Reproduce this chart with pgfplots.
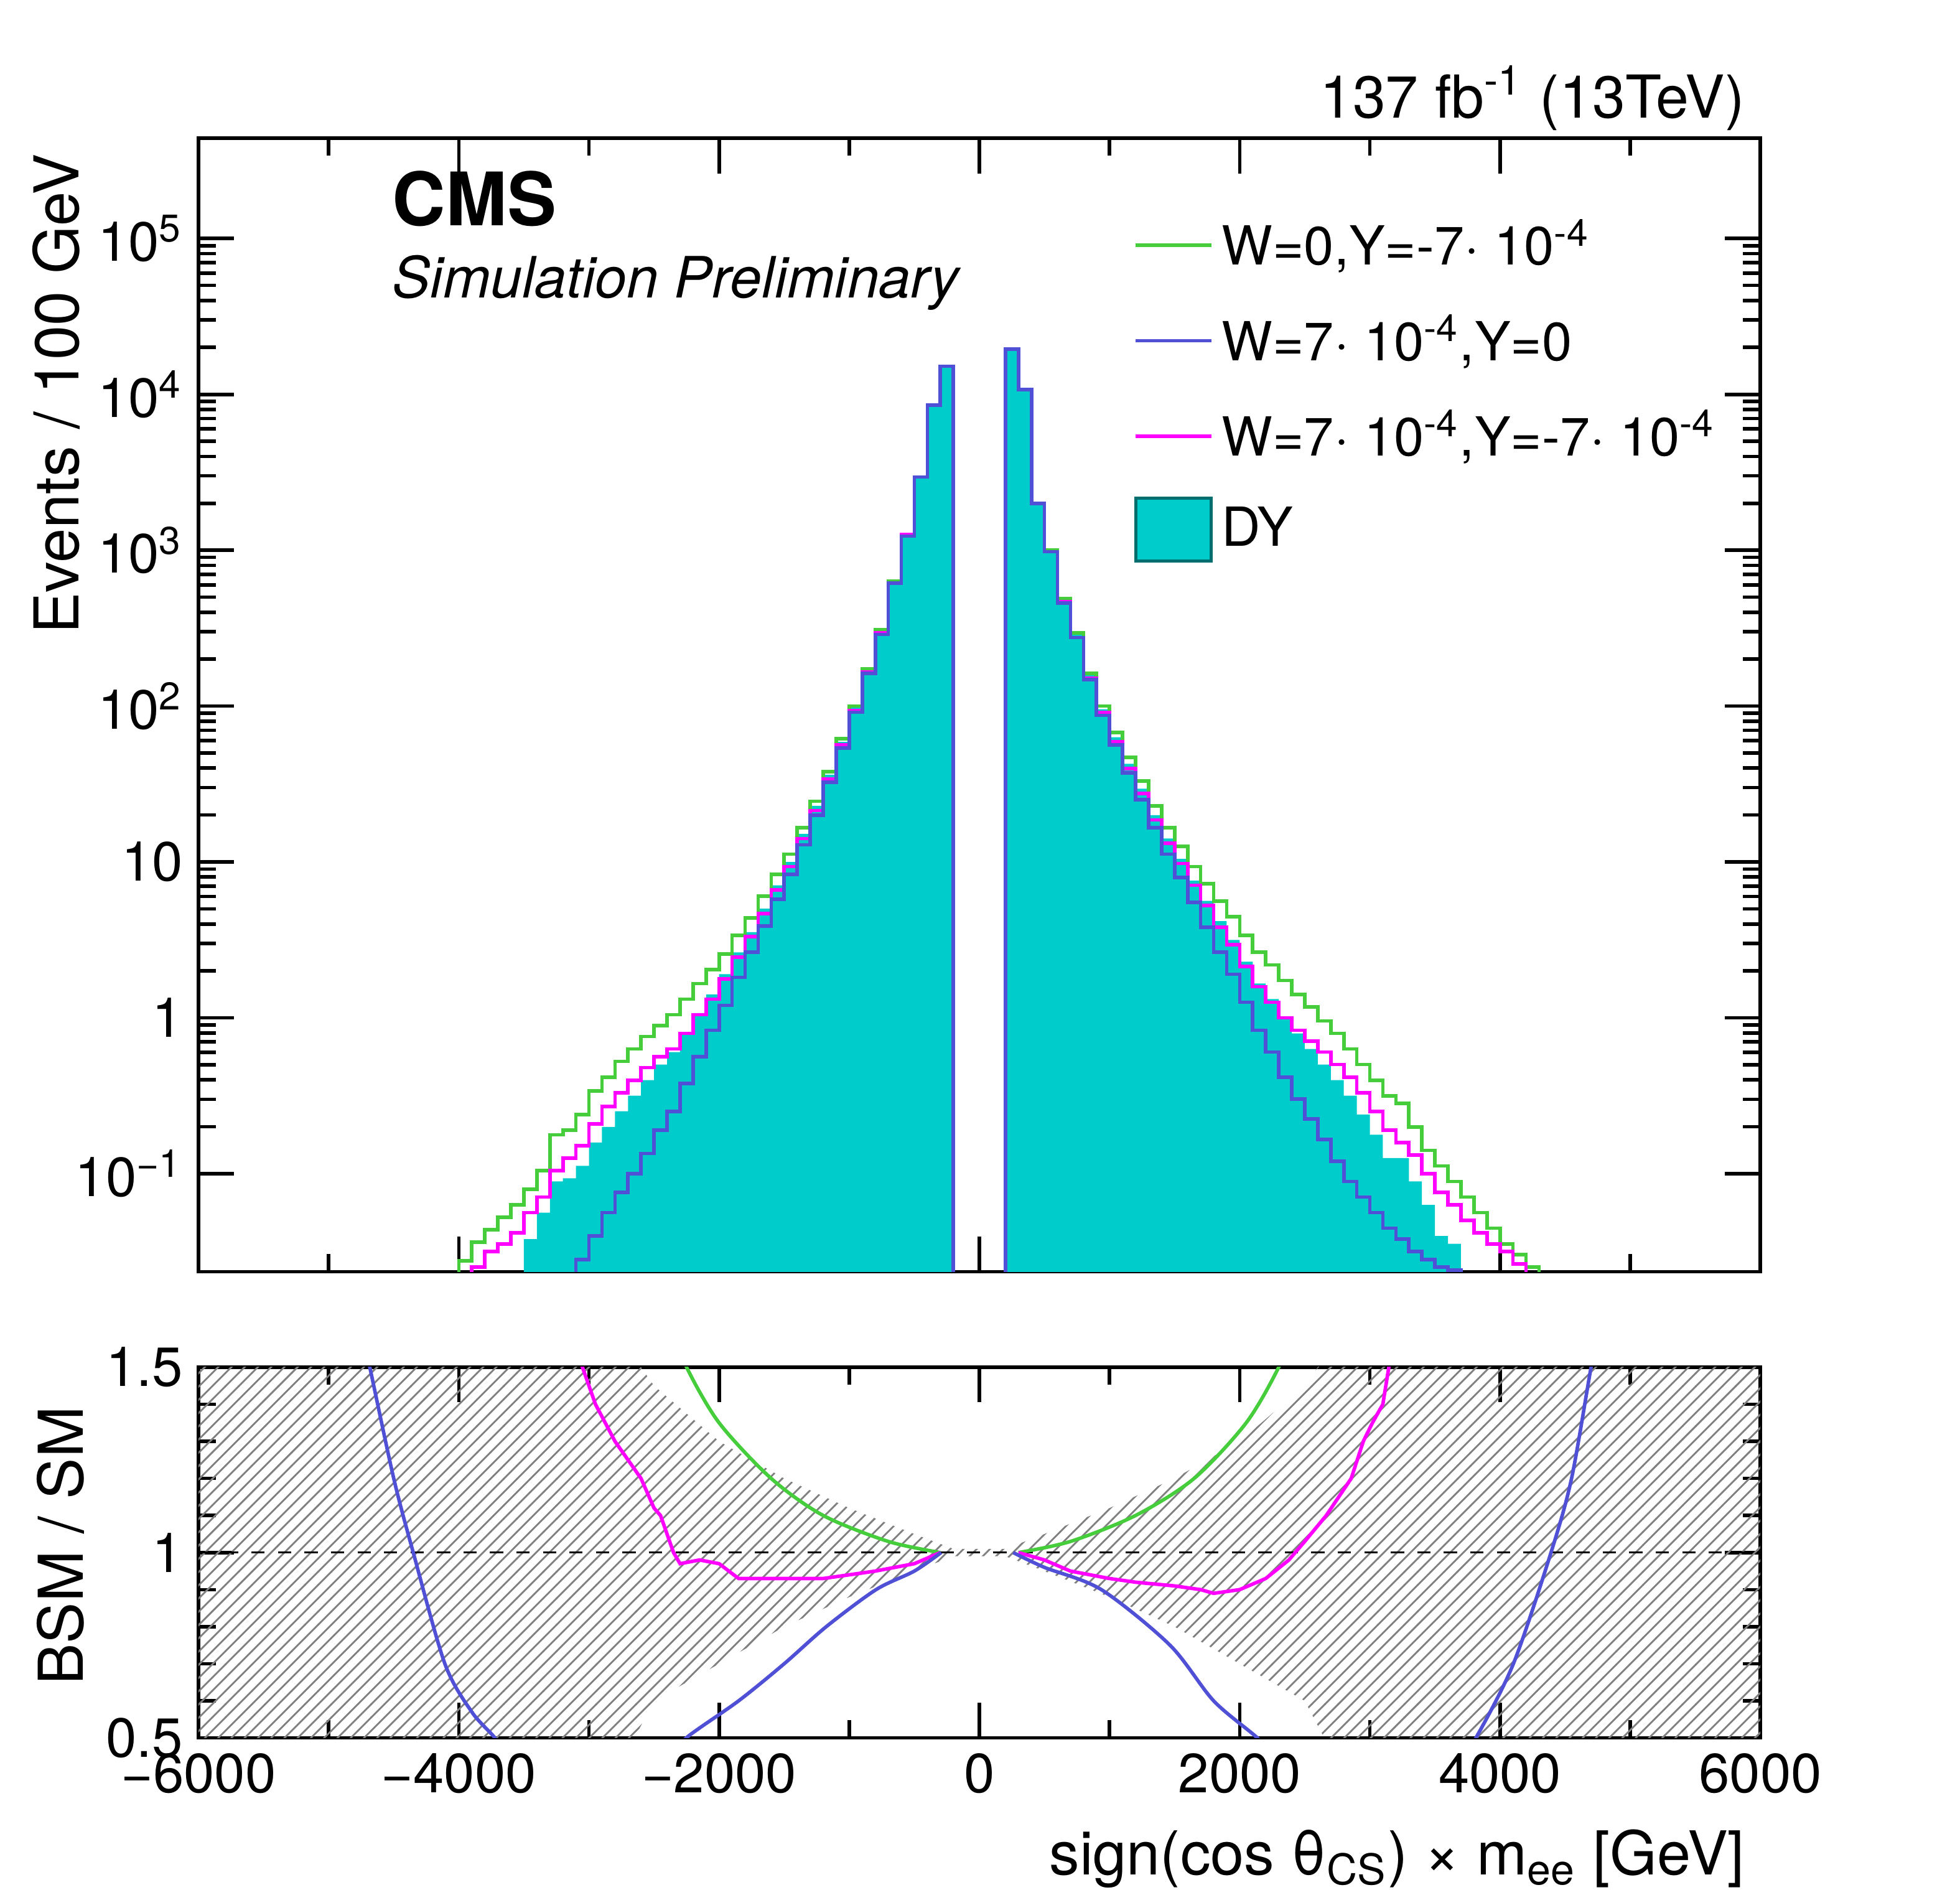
\documentclass[border=0pt]{standalone}
\usepackage{fontspec}
\setmainfont{TeX Gyre Heros}
\usepackage{pgfplots}
\pgfplotsset{compat=1.18}
\usepackage{pgfplotstable}
\usetikzlibrary{patterns}
\definecolor{cdy}{RGB}{0,204,204}
\definecolor{cdyb}{RGB}{0,110,110}
\definecolor{cgr}{RGB}{70,205,60}
\definecolor{cbl}{RGB}{80,80,215}
\definecolor{cmag}{RGB}{255,0,255}
\pgfplotstableread{
m dy g p b
-4100 -3 -3 -3 -3
-4000 -3 -1.56 -3 -3
-3900 -3 -1.44 -1.6 -3
-3800 -3 -1.36 -1.5 -3
-3700 -3 -1.28 -1.45 -3
-3600 -3 -1.2 -1.38 -3
-3500 -1.42 -1.1 -1.25 -3
-3400 -1.25 -0.98 -1.15 -3
-3300 -1.05 -0.75 -0.98 -3
-3200 -1.03 -0.72 -0.9 -1.7
-3100 -0.95 -0.62 -0.82 -1.55
-3000 -0.8 -0.47 -0.68 -1.4
-2900 -0.7 -0.38 -0.57 -1.25
-2800 -0.6 -0.28 -0.48 -1.12
-2700 -0.5 -0.2 -0.4 -1.0
-2600 -0.4 -0.12 -0.32 -0.87
-2500 -0.3 -0.05 -0.25 -0.72
-2400 -0.22 0.02 -0.2 -0.6
-2300 -0.1 0.12 -0.1 -0.42
-2200 0.03 0.22 0.02 -0.25
-2100 0.15 0.31 0.12 -0.08
-2000 0.28 0.41 0.25 0.08
-1900 0.42 0.53 0.39 0.26
-1800 0.55 0.64 0.52 0.42
-1700 0.7 0.78 0.67 0.59
-1600 0.85 0.92 0.82 0.76
-1500 1.0 1.05 0.97 0.92
-1400 1.18 1.22 1.15 1.11
-1300 1.36 1.39 1.33 1.3
-1200 1.56 1.58 1.53 1.51
-1100 1.77 1.79 1.75 1.73
-1000 1.99 2.0 1.97 1.96
-900 2.23 2.24 2.22 2.21
-800 2.48 2.49 2.47 2.46
-700 2.8 2.8 2.79 2.79
-600 3.1 3.1 3.1 3.09
-500 3.47 3.47 3.47 3.47
-400 3.93 3.93 3.93 3.93
-300 4.18 4.18 4.18 4.18
-200 -3 -3 -3 -3
200 4.29 4.29 4.29 4.29
300 4.03 4.03 4.03 4.03
400 3.3 3.3 3.3 3.3
500 3.0 3.0 2.99 2.99
600 2.68 2.69 2.67 2.66
700 2.46 2.47 2.44 2.44
800 2.2 2.21 2.18 2.17
900 1.98 2.0 1.96 1.94
1000 1.8 1.83 1.77 1.75
1100 1.63 1.67 1.6 1.57
1200 1.47 1.52 1.44 1.4
1300 1.3 1.36 1.27 1.22
1400 1.15 1.22 1.12 1.05
1500 1.02 1.1 0.99 0.9
1600 0.88 0.97 0.85 0.74
1700 0.75 0.86 0.72 0.58
1800 0.62 0.75 0.58 0.42
1900 0.5 0.65 0.47 0.28
2000 0.36 0.53 0.33 0.1
2100 0.22 0.42 0.2 -0.08
2200 0.12 0.34 0.1 -0.22
2300 0.0 0.24 0.0 -0.38
2400 -0.1 0.15 -0.08 -0.52
2500 -0.2 0.07 -0.15 -0.65
2600 -0.3 -0.02 -0.22 -0.78
2700 -0.4 -0.1 -0.3 -0.92
2800 -0.5 -0.2 -0.38 -1.05
2900 -0.62 -0.3 -0.48 -1.15
3000 -0.75 -0.4 -0.6 -1.25
3100 -0.9 -0.5 -0.72 -1.35
3200 -0.9 -0.55 -0.8 -1.42
3300 -1.05 -0.7 -0.88 -1.5
3400 -1.2 -0.85 -1.0 -1.55
3500 -1.4 -0.95 -1.12 -1.6
3600 -1.45 -1.05 -1.2 -1.62
3700 -3 -1.15 -1.3 -3
3800 -3 -1.25 -1.38 -3
3900 -3 -1.35 -1.45 -3
4000 -3 -1.45 -1.5 -3
4100 -3 -1.52 -1.58 -3
4200 -3 -1.6 -3 -3
4300 -3 -3 -3 -3
4400 -3 -3 -3 -3
}\hist
\begin{document}
\begin{tikzpicture}[font=\fontsize{12}{14}\selectfont]
\path[use as bounding box] (0,0) rectangle (15.6,15.04);
\pgfplotsset{every axis/.append style={scale only axis, width=12.43cm,
  xmin=-6000, xmax=6000, tick align=inside, major tick length=0.28cm, minor tick length=0.14cm,
  xtick={-6000,-4000,...,6000}, minor xtick={-5000,-3000,-1000,1000,3000,5000},
  every tick/.style={black, thick}, axis line style={thick},
  ticklabel style={font=\fontsize{12.5}{14}\selectfont}}}
\begin{axis}[at={(1.58cm,4.92cm)}, anchor=south west, height=9.02cm,
  ymode=log, ymin=0.0235, ymax=4.4e5, xticklabels={},
  ytick={0.1,1,10,100,1000,10000,100000},
  yticklabels={10\textsuperscript{−1},1,10,10\textsuperscript{2},10\textsuperscript{3},10\textsuperscript{4},10\textsuperscript{5}},
  legend style={at={(0.59,0.945)}, anchor=north west, draw=none, fill=none, row sep=0.2cm,
    font=\fontsize{12.2}{14}\selectfont, /tikz/every even column/.append style={column sep=0.3cm}},
  legend image code/.code={\draw[#1] (0cm,0cm) -- (0.6cm,0cm);},
  legend cell align=left]
\addplot[fill=cdy, draw=none, const plot mark left, forget plot] table[x=m, y expr=10^(\thisrow{dy})] {\hist} -- cycle;
\addplot[cgr, thick, const plot mark left, forget plot] table[x=m, y expr=10^(\thisrow{g})] {\hist};
\addplot[cmag, thick, const plot mark left, forget plot] table[x=m, y expr=10^(\thisrow{p})] {\hist};
\addplot[cbl, thick, const plot mark left, forget plot] table[x=m, y expr=10^(\thisrow{b})] {\hist};
\addlegendimage{cgr, thick}
\addlegendentry{W=0,Y=-7· 10\textsuperscript{-4}}
\addlegendimage{cbl, thick}
\addlegendentry{W=7· 10\textsuperscript{-4},Y=0}
\addlegendimage{cmag, thick}
\addlegendentry{W=7· 10\textsuperscript{-4},Y=-7· 10\textsuperscript{-4}}
\addlegendimage{legend image code/.code={\draw[fill=cdy, draw=cdyb, thick] (0cm,-0.25cm) rectangle (0.6cm,0.25cm);}}
\addlegendentry{DY}
\end{axis}
\begin{axis}[at={(1.58cm,1.21cm)}, anchor=south west, height=2.95cm,
  ymin=0.5, ymax=1.5, ytick={0.5,1,1.5}, yticklabels={0.5,1,1.5},
  minor ytick={0.6,0.7,0.8,0.9,1.1,1.2,1.3,1.4},
  xticklabels={−6000,−4000,−2000,0,2000,4000,6000}]
\addplot[draw=none, pattern=north east lines, pattern color=gray] coordinates {
(-6000,1.6) (-2800,1.6) (-2500,1.45) (-2000,1.3) (-1500,1.2) (-1000,1.12) (-500,1.05) (-200,1.01)
(200,1.01) (500,1.05) (1000,1.12) (1500,1.2) (2000,1.3) (2500,1.45) (2800,1.6) (6000,1.6)
(6000,0.4) (2800,0.4) (2500,0.6) (2000,0.7) (1500,0.8) (1000,0.88) (500,0.95) (200,0.99)
(-200,0.99) (-500,0.95) (-1000,0.88) (-1500,0.8) (-2000,0.7) (-2500,0.6) (-2800,0.4) (-6000,0.4)} -- cycle;
\addplot[black, dashed, thin] coordinates {(-6000,1) (6000,1)};
\addplot[cgr, thick, smooth] coordinates {(-2350,1.6) (-2250,1.5) (-2000,1.35) (-1600,1.2) (-1200,1.1) (-700,1.03) (-300,1.0)};
\addplot[cgr, thick, smooth] coordinates {(300,1.0) (700,1.03) (1200,1.1) (1650,1.2) (2050,1.35) (2300,1.5) (2400,1.6)};
\addplot[cmag, thick] coordinates {(-3100,1.6) (-3050,1.5) (-2950,1.4) (-2800,1.3) (-2700,1.25) (-2600,1.2) (-2500,1.12) (-2450,1.1) (-2350,1.0) (-2300,0.97) (-2150,0.98) (-2000,0.97) (-1850,0.93) (-1700,0.93) (-1500,0.93) (-1200,0.93) (-800,0.95) (-500,0.97) (-300,1.0)};
\addplot[cmag, thick] coordinates {(300,1.0) (500,0.98) (700,0.95) (1000,0.93) (1200,0.92) (1500,0.91) (1700,0.9) (1800,0.89) (2000,0.9) (2200,0.93) (2378,0.98) (2500,1.03) (2665,1.1) (2857,1.2) (2950,1.3) (3020,1.35) (3100,1.4) (3146,1.5) (3200,1.6)};
\addplot[cbl, thick, smooth] coordinates {(-4750,1.6) (-4684,1.5) (-4500,1.2) (-4350,1.0) (-4107,0.7) (-3900,0.57) (-3723,0.5) (-3650,0.45)};
\addplot[cbl, thick, smooth] coordinates {(-2350,0.45) (-2253,0.5) (-1850,0.6) (-1500,0.7) (-1177,0.8) (-794,0.9) (-500,0.95) (-294,1.0)};
\addplot[cbl, thick, smooth] coordinates {(260,1.0) (500,0.96) (937,0.9) (1465,0.75) (1800,0.6) (2136,0.5) (2250,0.45)};
\addplot[cbl, thick, smooth] coordinates {(3700,0.45) (3815,0.5) (4103,0.7) (4392,1.0) (4550,1.2) (4700,1.5) (4760,1.6)};
\end{axis}
\node[rotate=90, anchor=east, font=\fontsize{14}{16}\selectfont] at (0.45,13.94) {Events / 100 GeV};
\node[rotate=90, font=\fontsize{14}{16}\selectfont] at (0.48,2.74) {BSM / SM};
\node[anchor=base east, font=\fontsize{13.7}{16}\selectfont] at (14.01,0.12) {sign(cos θ\textsubscript{CS}) × m\textsubscript{ee} [GeV]};
\node[anchor=east, font=\fontsize{13.4}{16}\selectfont] at (14.01,14.26) {137 fb\textsuperscript{-1} (13TeV)};
\node[anchor=west, font=\fontsize{16.7}{20}\bfseries] at (3.0,13.46) {CMS};
\node[anchor=west, font=\fontsize{12.9}{15}\itshape] at (3.0,12.79) {Simulation Preliminary};
\end{tikzpicture}
\end{document}
